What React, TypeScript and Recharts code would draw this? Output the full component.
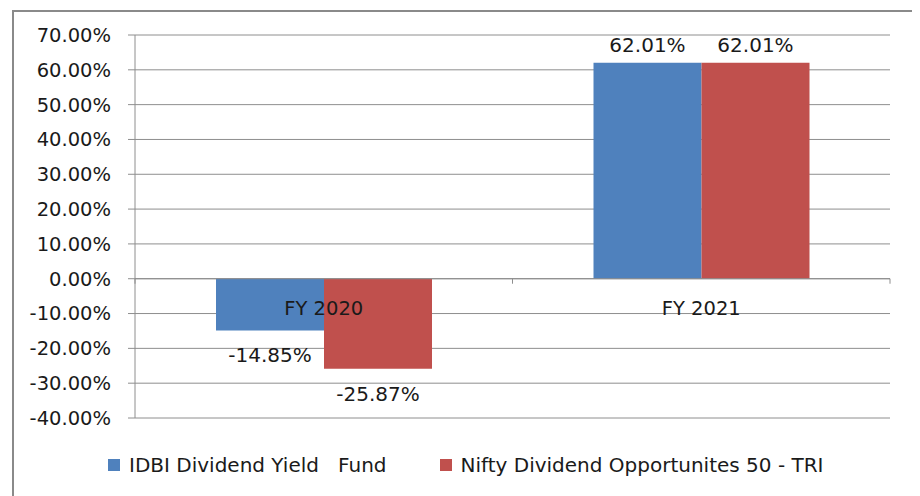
import {
  Bar,
  BarChart,
  CartesianGrid,
  LabelList,
  Legend,
  ReferenceLine,
  XAxis,
  YAxis,
} from 'recharts';

const CATEGORIES = ['FY 2020', 'FY 2021'];
const FUND_RETURNS = [-14.85, 62.01];
const INDEX_RETURNS = [-25.87, 62.01];
const Y_TICKS = [-40, -30, -20, -10, 0, 10, 20, 30, 40, 50, 60, 70];
const SERIES = [
  { color: '#4f81bd', key: 'fund', label: 'IDBI Dividend Yield   Fund' },
  { color: '#c0504d', key: 'index', label: 'Nifty Dividend Opportunites 50 - TRI' },
] as const;

const FONT = '"DejaVu Sans", sans-serif';
const TEXT = '#1a1a1a';
const GRID = '#8e8e8e';

const data = CATEGORIES.map((name, i) => ({
  fund: FUND_RETURNS[i],
  index: INDEX_RETURNS[i],
  name,
}));

const pct = (value: number) => `${value.toFixed(2)}%`;

// value above positive bars, below negative ones (like the Excel original)
function ValueLabel(props: any) {
  const box = props.viewBox ?? props;
  const { x, y, width, height } = box;
  const value = Number(props.value);
  const top = Math.min(y, y + height);
  const bottom = Math.max(y, y + height);
  const baseline = value >= 0 ? top - 11 : bottom + 32;
  return (
    <text fill={TEXT} fontSize={20} textAnchor="middle" x={x + width / 2} y={baseline}>
      {pct(value)}
    </text>
  );
}

// category labels + tick marks sit on the zero line, not at the bottom
function ZeroAxis(props: any) {
  const vb = props.viewBox;
  if (!vb) {
    return null;
  }
  const step = vb.width / CATEGORIES.length;
  return (
    <g>
      {Array.from({ length: CATEGORIES.length + 1 }, (_, i) => (
        <line
          key={`t${i}`}
          stroke={GRID}
          x1={vb.x + step * i}
          x2={vb.x + step * i}
          y1={vb.y}
          y2={vb.y + 5}
        />
      ))}
      {CATEGORIES.map((label, i) => (
        <text
          fill={TEXT}
          fontSize={19.5}
          key={label}
          textAnchor="middle"
          x={vb.x + step * (i + 0.5)}
          y={vb.y + 36}
        >
          {label}
        </text>
      ))}
    </g>
  );
}

function LegendContent() {
  return (
    <div
      style={{
        alignItems: 'center',
        color: TEXT,
        display: 'flex',
        fontFamily: FONT,
        fontSize: 20,
        height: 30,
        paddingLeft: 94,
      }}
    >
      {SERIES.map((s) => (
        <span
          key={s.key}
          style={{ alignItems: 'center', display: 'flex', marginRight: 53, whiteSpace: 'pre' }}
        >
          <span style={{ background: s.color, height: 12, marginRight: 9, width: 12 }} />
          {s.label}
        </span>
      ))}
    </div>
  );
}

export default function App() {
  return (
    <div
      style={{
        background: '#fff',
        border: '2px solid #8a8a8a',
        height: 490,
        left: 4,
        position: 'relative',
        top: 2,
        width: 902,
      }}
    >
      <BarChart
        barCategoryGap={81}
        barGap={0}
        data={data}
        height={490}
        margin={{ bottom: 54, left: 0, right: 26, top: 23 }}
        style={{ fontFamily: FONT }}
        width={902}
      >
        <CartesianGrid horizontal stroke={GRID} vertical={false} />
        <XAxis dataKey="name" hide />
        <YAxis
          axisLine={{ stroke: GRID }}
          domain={[-40, 70]}
          interval={0}
          tick={{ fill: TEXT, fontSize: 19.5 }}
          tickFormatter={(value: number) => pct(value)}
          tickLine={{ stroke: GRID }}
          tickMargin={17}
          tickSize={7}
          ticks={Y_TICKS}
          type="number"
          width={121}
        />
        {SERIES.map((s) => (
          <Bar dataKey={s.key} fill={s.color} isAnimationActive={false} key={s.key} name={s.label}>
            <LabelList content={ValueLabel} dataKey={s.key} />
          </Bar>
        ))}
        <ReferenceLine label={(p: any) => <ZeroAxis {...p} />} stroke={GRID} y={0} />
        <Legend
          content={<LegendContent />}
          height={30}
          verticalAlign="bottom"
          wrapperStyle={{ left: 0, top: 438 }}
        />
      </BarChart>
    </div>
  );
}
